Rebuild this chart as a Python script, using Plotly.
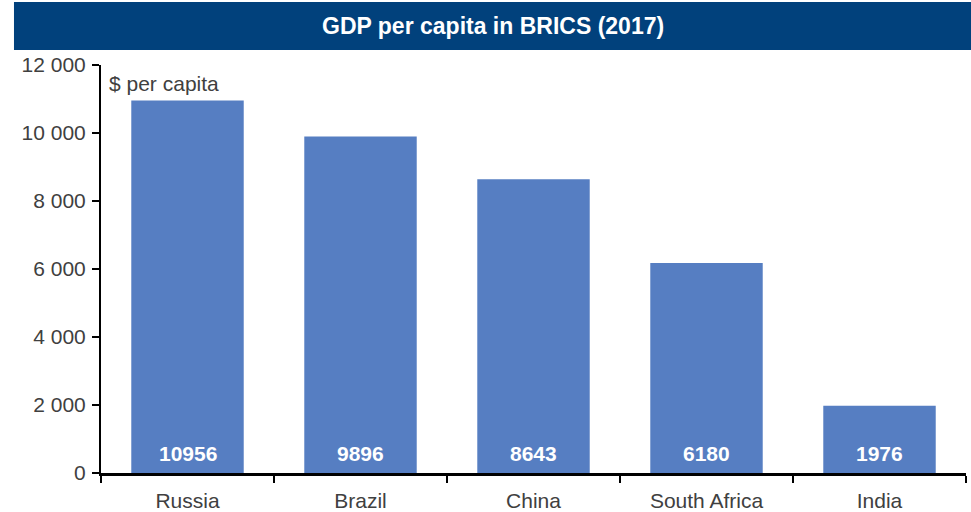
import plotly.graph_objects as go

countries = ["Russia", "Brazil", "China", "South Africa", "India"]
gdp_per_capita = [10956, 9896, 8643, 6180, 1976]
y_ticks = [0, 2000, 4000, 6000, 8000, 10000, 12000]
y_tick_text = ["0", "2 000", "4 000", "6 000", "8 000", "10 000", "12 000"]

BAR = "#567ec2"
NAVY = "#01417c"
GREY = "#404040"
FONT = "Liberation Sans, Arial"

fig = go.Figure(
    go.Bar(
        x=countries,
        y=gdp_per_capita,
        marker=dict(color=BAR, line=dict(width=0)),
        hoverinfo="x+y",
    )
)

# value labels sitting at the base of each bar
for c, v in zip(countries, gdp_per_capita):
    fig.add_annotation(
        x=c, y=0, yanchor="bottom", yshift=6, showarrow=False,
        text=f"<b>{v}</b>",
        font=dict(family=FONT, size=21, color="white"),
    )

# unit label
fig.add_annotation(
    xref="paper", yref="paper", x=0.007, y=0.955, xanchor="left", yanchor="middle",
    showarrow=False, text="$ per capita",
    font=dict(family=FONT, size=21, color=GREY),
)

# title banner
fig.add_shape(
    type="rect", xref="paper", yref="paper",
    x0=-0.1006, x1=1.0058, y0=1.0368, y1=1.1544,
    fillcolor=NAVY, line=dict(width=0), layer="below",
)
fig.add_annotation(
    xref="paper", yref="paper", x=0.4527, y=1.0956, xanchor="center", yanchor="middle",
    showarrow=False, text="<b>GDP per capita in BRICS (2017)</b>",
    font=dict(family=FONT, size=23, color="white"),
)

fig.update_layout(
    width=971, height=512,
    margin=dict(l=101, r=5, t=65, b=39),
    paper_bgcolor="white", plot_bgcolor="white",
    bargap=0.35, showlegend=False,
    font=dict(family=FONT, size=21, color=GREY),
)
fig.update_xaxes(
    showline=True, linecolor="black", linewidth=3,
    ticks="outside", tickson="boundaries", ticklen=7, tickwidth=2, tickcolor="black",
    tickfont=dict(size=21, color=GREY), showgrid=False, zeroline=False,
    ticklabelstandoff=7, automargin=False,
)
fig.update_yaxes(
    range=[0, 12000], tickvals=y_ticks, ticktext=y_tick_text,
    showline=True, linecolor="black", linewidth=2,
    ticks="outside", ticklen=7, tickwidth=2, tickcolor="black",
    tickfont=dict(size=21, color=GREY), showgrid=False, zeroline=False,
    ticklabelstandoff=2, automargin=False,
)

fig.write_html("out.html")
